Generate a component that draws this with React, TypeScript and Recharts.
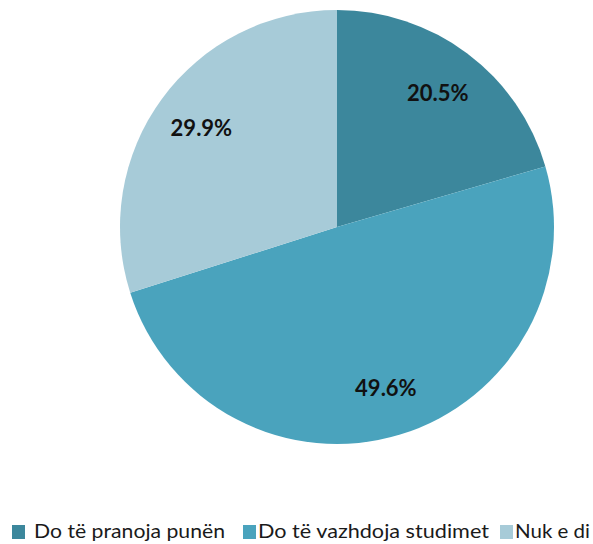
import { Cell, Legend, Pie, PieChart } from "recharts";

const categories = ["Do të pranoja punën", "Do të vazhdoja studimet", "Nuk e di"];
const shares = [20.5, 49.6, 29.9];
const sliceColors = ["#3C879C", "#4AA3BD", "#A7CBD8"];

const data = categories.map((name, index) => ({ name, value: shares[index] }));

const RADIAN = Math.PI / 180;
const LABEL_RADIUS = 168;

// legend item layout: square start, text start, text width
const legendLayout = [
  { square: 12, text: 34, width: 191 },
  { square: 243, text: 258, width: 231 },
  { square: 500, text: 515, width: 75 },
];

function renderLabel(props: any) {
  const { cx, cy, midAngle, value } = props;
  const x = cx + LABEL_RADIUS * Math.cos(-midAngle * RADIAN);
  const y = cy + LABEL_RADIUS * Math.sin(-midAngle * RADIAN);

  return (
    <text
      x={x}
      y={y}
      textAnchor="middle"
      dominantBaseline="central"
      fill="#111"
      fontFamily="Lato, 'Open Sans', sans-serif"
      fontWeight={700}
      fontSize={22}
    >
      {`${value.toFixed(1)}%`}
    </text>
  );
}

function LegendContent() {
  return (
    <svg width={593} height={30} style={{ display: "block" }}>
      {categories.map((name, index) => (
        <g key={name}>
          <rect
            x={legendLayout[index].square}
            y={11}
            width={13}
            height={14}
            fill={sliceColors[index]}
          />
          <text
            x={legendLayout[index].text}
            y={24}
            fill="#1a1a1a"
            fontFamily="Lato, 'Open Sans', sans-serif"
            fontSize={20}
            textLength={legendLayout[index].width}
            lengthAdjust="spacingAndGlyphs"
          >
            {name}
          </text>
        </g>
      ))}
    </svg>
  );
}

export default function App() {
  return (
    <div style={{ position: "absolute", left: 0, top: 0, background: "#fff" }}>
      <PieChart width={593} height={544} margin={{ top: 0, right: 0, bottom: 0, left: 0 }}>
        <Pie
          data={data}
          dataKey="value"
          nameKey="name"
          cx={337}
          cy={227}
          outerRadius={217}
          startAngle={90}
          endAngle={-270}
          stroke="none"
          label={renderLabel}
          labelLine={false}
          isAnimationActive={false}
        >
          {data.map((entry, index) => (
            <Cell key={entry.name} fill={sliceColors[index]} />
          ))}
        </Pie>
        <Legend
          content={<LegendContent />}
          wrapperStyle={{ top: 514, left: 0, width: 593, height: 30 }}
        />
      </PieChart>
    </div>
  );
}
